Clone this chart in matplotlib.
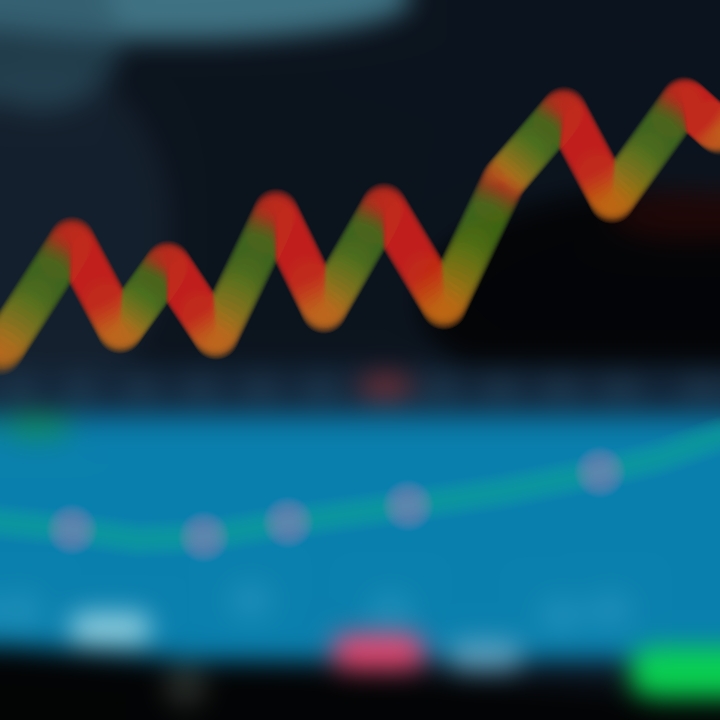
import numpy as np
import matplotlib
matplotlib.use("Agg")
import matplotlib.pyplot as plt
from matplotlib.collections import LineCollection
from matplotlib.colors import to_rgb

# ---------------- data ----------------
price_day = [0, 6, 10, 14, 18, 23, 27, 32, 37, 42, 47, 51, 57, 60]
price_val = [124, 180, 135, 168, 132, 194, 145, 197, 147, 210, 245, 200, 250, 234]

ind_day = [0, 6, 11.5, 17, 24, 34, 42, 50, 55, 60]
ind_val = [49, 46, 42, 43, 49, 56, 62, 70, 76, 85]
dot_day = [6, 17, 24, 34, 50]
dot_val = [46, 43, 49, 56, 70]

# ---------------- background (blurred screen) ----------------
W = H = 720
yy, xx = np.mgrid[0:H, 0:W].astype(float)
img = np.zeros((H, W, 3))


def paint(mask, color):
    c = np.array(to_rgb(color))
    img[:] = img * (1 - mask[..., None]) + c * mask[..., None]


def ell(cx, cy, rx, ry, p=2.0):
    return ((np.abs(xx - cx) / rx) ** p + (np.abs(yy - cy) / ry) ** p) <= 1


img[:] = np.array(to_rgb("#0c141e"))
paint(ell(40, 230, 130, 170).astype(float) * 0.8, "#172331")
paint(ell(170, 0, 240, 40).astype(float), "#3f7283")
paint(ell(40, 40, 80, 70).astype(float) * 0.6, "#2e5566")
paint(ell(650, 300, 230, 110).astype(float), "#040507")
paint(ell(690, 215, 80, 25).astype(float) * 0.5, "#3a0a08")
# axis strip
paint(((yy > 365) & (yy < 412)).astype(float), "#13263a")
for cx in [20, 80, 140, 200, 260, 320, 440, 500, 560, 620, 700]:
    paint(ell(cx, 388, 20, 12).astype(float) * 0.6, "#28465c")
paint(ell(385, 386, 28, 14).astype(float), "#6a2f36")
# cyan panel
paint(((yy >= 412) & (yy < 660)).astype(float), "#0a80ae")
paint(((yy >= 412) & (yy < 428)).astype(float), "#0a6c98")
paint(ell(37, 427, 35, 14).astype(float), "#0f8a6a")
for cx, cy in [(20, 610), (250, 600), (390, 610), (560, 615), (610, 610)]:
    paint(ell(cx, cy, 25, 22).astype(float) * 0.5, "#2a98be")
# black bottom with slanted edge
paint((yy > 645 + 0.075 * xx).astype(float), "#030405")
# pills
paint(ell(110, 628, 40, 17, 4).astype(float), "#8ccbdc")
paint(ell(378, 651, 46, 19, 4).astype(float), "#df4872")
paint(ell(485, 655, 36, 16, 4).astype(float), "#5a9fbd")
paint(ell(690, 672, 60, 26, 4).astype(float), "#0ad052")
paint(ell(185, 685, 22, 22).astype(float), "#262b27")


def box_blur(a, r, axis):
    pad = [(0, 0)] * a.ndim
    pad[axis] = (r + 1, r)
    p = np.pad(a, pad, mode="edge")
    c = np.cumsum(p, axis=axis)
    n = a.shape[axis]
    hi = np.take(c, np.arange(2 * r + 1, 2 * r + 1 + n), axis=axis)
    lo = np.take(c, np.arange(0, n), axis=axis)
    return (hi - lo) / (2 * r + 1)


for _ in range(3):
    img = box_blur(img, 12, 0)
    img = box_blur(img, 12, 1)
img = np.clip(img, 0, 1)

fig = plt.figure(figsize=(7.2, 7.2), dpi=100)
bg = fig.add_axes([0, 0, 1, 1])
bg.imshow(img, extent=(0, W, H, 0), aspect="auto", interpolation="bilinear")
bg.set_xlim(0, W)
bg.set_ylim(H, 0)
bg.axis("off")

# ---------------- price line ----------------
ax = fig.add_axes([0, 1 - 400 / 720, 1, 400 / 720])
ax.patch.set_alpha(0)
ax.set_xlim(0, 60)
ax.set_ylim(100, 300)
ax.axis("off")

RED = np.array(to_rgb("#cc2a1c"))
ORANGE = np.array(to_rgb("#c8701e"))
OLIVE = np.array(to_rgb("#7e7e20"))
GREEN = np.array(to_rgb("#4a701e"))


def lerp_stops(f, stops):
    for (f0, c0), (f1, c1) in zip(stops[:-1], stops[1:]):
        if f <= f1:
            t = (f - f0) / (f1 - f0) if f1 > f0 else 0
            return c0 + (c1 - c0) * t
    return stops[-1][1]


segs, cols = [], []
for i in range(len(price_day) - 1):
    x0, x1 = price_day[i], price_day[i + 1]
    y0, y1 = price_val[i], price_val[i + 1]
    rising = y1 > y0
    n = 20
    for k in range(n):
        f0, f1 = k / n, (k + 1) / n
        fm = (f0 + f1) / 2
        segs.append([(x0 + (x1 - x0) * f0, y0 + (y1 - y0) * f0),
                     (x0 + (x1 - x0) * f1, y0 + (y1 - y0) * f1)])
        if rising:
            c = lerp_stops(fm, [(0, ORANGE), (0.3, OLIVE), (0.55, GREEN), (0.8, GREEN), (1.0, RED)])
        else:
            c = lerp_stops(fm, [(0, RED), (0.65, RED), (1.0, ORANGE)])
        cols.append(c)
cols = np.array(cols)

for lw in np.linspace(34, 3, 22):
    lc = LineCollection(segs, colors=np.column_stack([cols, np.full(len(cols), 0.08)]),
                        linewidths=lw, capstyle="round", joinstyle="round")
    ax.add_collection(lc)

# ---------------- indicator line ----------------
ax2 = fig.add_axes([0, 1 - 640 / 720, 1, 240 / 720])
ax2.patch.set_alpha(0)
ax2.set_xlim(0, 60)
ax2.set_ylim(0, 100)
ax2.axis("off")
for lw in np.linspace(28, 3, 14):
    ax2.plot(ind_day, ind_val, color="#1cb09c", lw=lw, alpha=0.06,
             solid_capstyle="round", solid_joinstyle="round")
for s in np.linspace(1400, 100, 14):
    ax2.scatter(dot_day, dot_val, s=s, color="#b080c0", alpha=0.05,
                edgecolors="none", zorder=3)

fig.savefig("out.png", dpi=100)
